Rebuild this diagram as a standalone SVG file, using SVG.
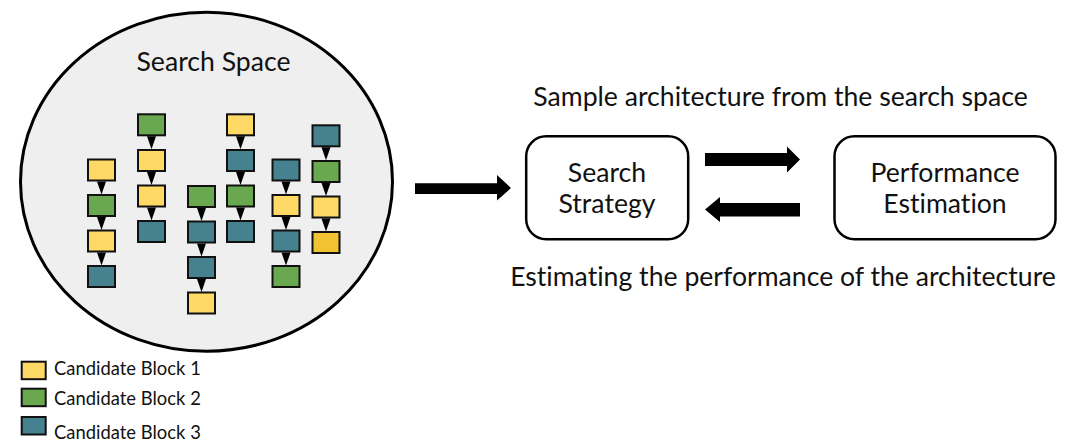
<svg xmlns="http://www.w3.org/2000/svg" width="1077" height="445" viewBox="0 0 1077 445">
<style>
text{font-family:Lato,"Noto Sans","Liberation Sans",sans-serif;fill:#111;font-variant-ligatures:none;font-feature-settings:"liga" 0,"clig" 0,"dlig" 0,"calt" 0;letter-spacing:0.01px}
.b{stroke:#111;stroke-width:2}
.y{fill:#ffd966}.g{fill:#6aa84f}.t{fill:#45818e}.d{fill:#f1c232}
.big{font-size:26.6px}
.leg{font-size:18.4px}
.box{fill:#fff;stroke:#000;stroke-width:2.5}
.tri{fill:#000}
</style>
<defs>
<g id="a"><polygon points="-4.5,0 4.5,0 0,13"/></g>
</defs>
<rect width="1077" height="445" fill="#fff"/>
<g id="search-space">
<ellipse cx="206.5" cy="181.7" rx="186" ry="169.5" fill="#efefef" stroke="#000" stroke-width="3"/>
<text class="big" x="213.5" y="71" text-anchor="middle">Search Space</text>
</g>
<g id="blocks">
<g id="col1">
<rect class="b y" x="88" y="159.5" width="27" height="21"/>
<rect class="b g" x="88" y="195" width="27" height="21"/>
<rect class="b y" x="88" y="230.5" width="27" height="21"/>
<rect class="b t" x="88" y="266" width="27" height="21"/>
</g>
<g id="col2">
<rect class="b g" x="138" y="114.3" width="27" height="21"/>
<rect class="b y" x="138" y="150" width="27" height="21"/>
<rect class="b y" x="138" y="185.5" width="27" height="21"/>
<rect class="b t" x="138" y="221" width="27" height="21"/>
</g>
<g id="col3">
<rect class="b g" x="188" y="186" width="27" height="21"/>
<rect class="b t" x="188" y="221.5" width="27" height="21"/>
<rect class="b t" x="188" y="257" width="27" height="21"/>
<rect class="b y" x="188" y="292.5" width="27" height="21"/>
</g>
<g id="col4">
<rect class="b y" x="227" y="114.3" width="27" height="21"/>
<rect class="b t" x="227" y="150" width="27" height="21"/>
<rect class="b g" x="227" y="185.5" width="27" height="21"/>
<rect class="b t" x="227" y="221" width="27" height="21"/>
</g>
<g id="col5">
<rect class="b t" x="272.5" y="159.5" width="27" height="21"/>
<rect class="b y" x="272.5" y="195" width="27" height="21"/>
<rect class="b t" x="272.5" y="230.5" width="27" height="21"/>
<rect class="b g" x="272.5" y="266" width="27" height="21"/>
</g>
<g id="col6">
<rect class="b t" x="312.5" y="125.3" width="27" height="21"/>
<rect class="b g" x="312.5" y="161" width="27" height="21"/>
<rect class="b y" x="312.5" y="196.5" width="27" height="21"/>
<rect class="b d" x="312.5" y="232" width="27" height="21"/>
</g>
</g>
<g id="block-arrows" class="tri">
<use href="#a" x="101.5" y="181.5"/><use href="#a" x="101.5" y="217"/><use href="#a" x="101.5" y="252.5"/>
<use href="#a" x="151.5" y="136.3"/><use href="#a" x="151.5" y="172"/><use href="#a" x="151.5" y="207.5"/>
<use href="#a" x="201.5" y="208"/><use href="#a" x="201.5" y="243.5"/><use href="#a" x="201.5" y="279"/>
<use href="#a" x="240.5" y="136.3"/><use href="#a" x="240.5" y="172"/><use href="#a" x="240.5" y="207.5"/>
<use href="#a" x="286" y="181.5"/><use href="#a" x="286" y="217"/><use href="#a" x="286" y="252.5"/>
<use href="#a" x="326" y="147.3"/><use href="#a" x="326" y="183"/><use href="#a" x="326" y="218.5"/>
</g>
<g id="legend">
<rect class="b y" x="21.7" y="361.7" width="24" height="17.5"/>
<rect class="b g" x="21.7" y="388.7" width="24" height="17.5"/>
<rect class="b t" x="21.7" y="417" width="24" height="17.5"/>
<text class="leg" x="54" y="375">Candidate Block 1</text>
<text class="leg" x="54" y="405">Candidate Block 2</text>
<text class="leg" x="54" y="439">Candidate Block 3</text>
</g>
<g id="search-strategy">
<rect class="box" x="526.2" y="136.2" width="162" height="103" rx="20"/>
<text class="big" x="607" y="182" text-anchor="middle">Search</text>
<text class="big" x="607" y="213" text-anchor="middle">Strategy</text>
</g>
<g id="performance-estimation">
<rect class="box" x="834.5" y="136.2" width="221" height="103" rx="20"/>
<text class="big" x="945" y="182" text-anchor="middle">Performance</text>
<text class="big" x="945" y="213" text-anchor="middle">Estimation</text>
</g>
<g id="connectors" fill="#000">
<polygon points="415,183.3 497,183.3 497,175 511,188 497,200.5 497,194 415,194"/>
<polygon points="705,153 787,153 787,146.5 800,159.5 787,172.5 787,166 705,166"/>
<polygon points="800,203 720,203 720,197 705,209.5 720,222 720,216.5 800,216.5"/>
</g>
<g id="labels">
<text class="big" x="780.5" y="106" text-anchor="middle">Sample architecture from the search space</text>
<text class="big" x="783" y="286" text-anchor="middle">Estimating the performance of the architecture</text>
</g>
</svg>
